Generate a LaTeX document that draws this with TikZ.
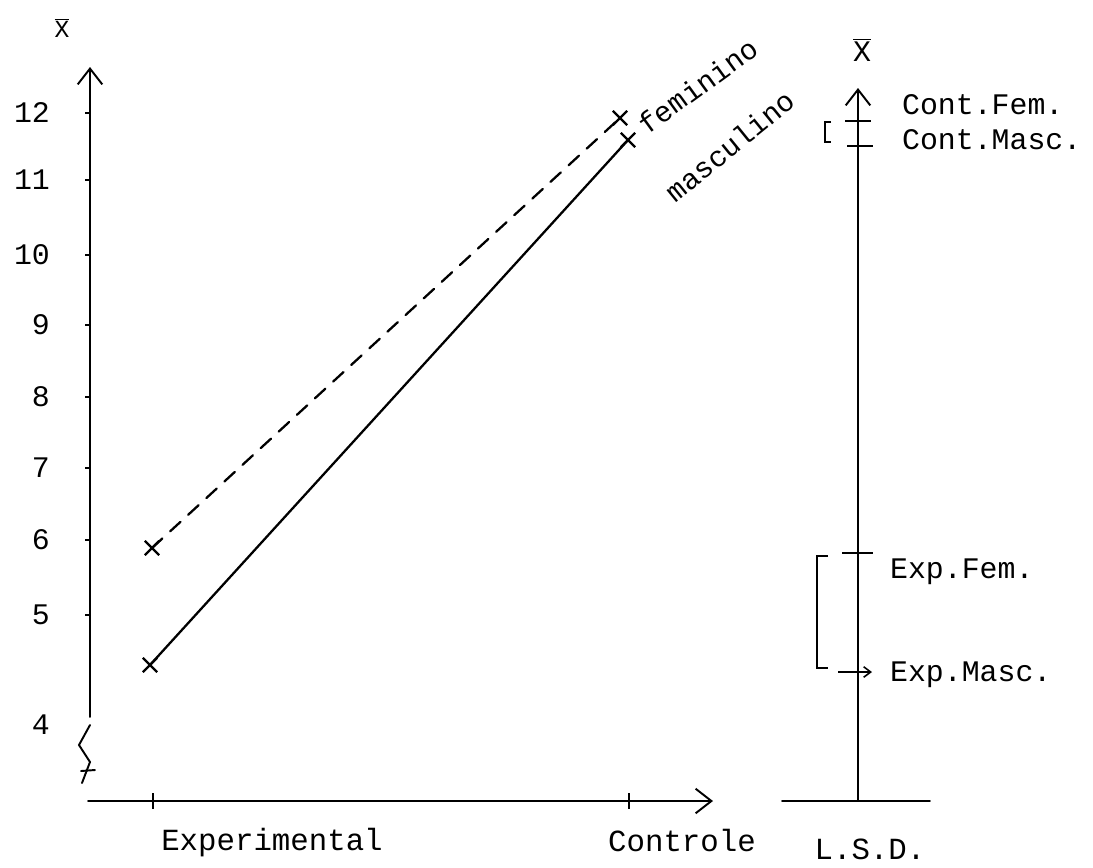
\documentclass[tikz,border=0pt]{standalone}
\usepackage{fontspec}
\newfontfamily\typewr{Liberation Mono}
\usetikzlibrary{arrows.meta,shapes.misc}
\tikzset{
  axis/.style={line width=1.1pt, draw=black, line cap=round},
  axisarrow/.style={axis, -{Straight Barb[length=9pt,width=14pt,line width=1.1pt]}},
  datapt/.style={cross out, draw=black, line width=1.3pt, minimum size=0.24cm, inner sep=0pt},
  series/.style={line width=1.3pt, draw=black, line cap=round},
  tick/.style={line width=0.9pt, draw=black},
  ticklabel/.style={font=\typewr\fontsize{17}{20}\selectfont, inner sep=1pt},
  grouplabel/.style={font=\typewr\fontsize{17.5}{20}\selectfont, inner sep=1pt},
  slantlabel/.style={font=\typewr\fontsize{16.5}{18}\selectfont, inner sep=0pt},
  lsdlabel/.style={font=\typewr\fontsize{17}{20}\selectfont, anchor=west, inner sep=1pt},
  bracket/.style={line width=1pt, draw=black},
}

\begin{document}
\begin{tikzpicture}[x=0.02cm, y=-0.02cm]
\useasboundingbox (0,0) rectangle (1093,867);
% left axis
\coordinate (ybot) at (90,717);
\coordinate (ytop) at (90,67);
\coordinate (xleft) at (88,801);
\coordinate (xright) at (713,801);
\draw[axisarrow] (ybot) -- (ytop);
\draw[axisarrow] (xleft) -- (xright);
\draw[axis] (90,725) -- (79,745) -- (90,762) -- (82,783);
\draw[axis] (81,771) -- (95,770);
\node[ticklabel] (ybar) at (62,28) {$\overline{\hbox{\typewr\fontsize{14}{16}\selectfont X}}$};
% y ticks
\foreach \val/\ypos in {12/113,11/180,10/255,9/325,8/397,7/468,6/540,5/615} {
  \draw[tick] (85,\ypos) -- (90,\ypos);
  \node[ticklabel, anchor=east] (y\val) at (52,\ypos) {\val};
}
\node[ticklabel, anchor=east] (y4) at (52,725) {4};
% x ticks
\draw[tick] (153,793) -- (153,809);
\draw[tick] (629,793) -- (629,809);
\node[grouplabel] (expgroup) at (272,843) {Experimental};
\node[grouplabel] (congroup) at (682,840) {Controle};
\node[grouplabel] (lsdgroup) at (870,849) {L.S.D.};
% data
\node[datapt] (femexp) at (152,548) {};
\node[datapt] (femcon) at (620,118) {};
\node[datapt] (masexp) at (150,665) {};
\node[datapt] (mascon) at (628,140) {};
\draw[series, dash pattern=on 8pt off 6pt] (femexp.center) -- (femcon.center);
\draw[series] (masexp.center) -- (mascon.center);
\node[slantlabel, rotate=36] (femlabel) at (698,86) {feminino};
\node[slantlabel, rotate=39] (maslabel) at (730,146) {masculino};
% L.S.D. axis
\coordinate (lbot) at (858,801);
\coordinate (ltop) at (858,88);
\coordinate (lleft) at (782,801);
\coordinate (lright) at (930,801);
\draw[axisarrow] (lbot) -- (ltop);
\draw[axis] (lleft) -- (lright);
\node[ticklabel] (lbar) at (862,50) {$\overline{\hbox{\typewr\fontsize{17}{20}\selectfont X}}$};
\coordinate (cfa) at (845,121);
\coordinate (cfb) at (871,121);
\coordinate (cma) at (847,146);
\coordinate (cmb) at (873,146);
\coordinate (efa) at (842,553);
\coordinate (efb) at (873,553);
\coordinate (ema) at (838,672);
\coordinate (emb) at (872,672);
\draw[tick] (cfa) -- (cfb);
\draw[tick] (cma) -- (cmb);
\draw[tick] (efa) -- (efb);
\draw[tick, -{Straight Barb[length=4pt,width=6pt]}] (ema) -- (emb);
\node[lsdlabel] (contfem) at (900,105) {Cont.Fem.};
\node[lsdlabel] (contmasc) at (900,140) {Cont.Masc.};
\node[lsdlabel] (expfem) at (888,572) {Exp.Fem.};
\node[lsdlabel] (expmasc) at (888,675) {Exp.Masc.};
% brackets
\draw[bracket, line width=1.6pt] (831,122) -- (825,122) -- (825,142) -- (831,142);
\draw[bracket] (828,556) -- (817,556) -- (817,668) -- (828,668);
\end{tikzpicture}
\end{document}
